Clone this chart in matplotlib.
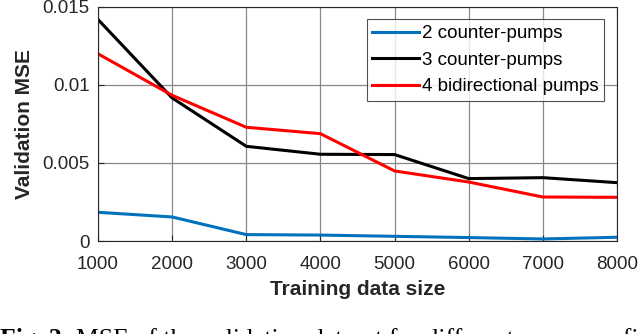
import matplotlib
matplotlib.use('Agg')
import matplotlib.pyplot as plt

# training data sizes
sizes = [1000, 2000, 3000, 4000, 5000, 6000, 7000, 8000]

# validation MSE per pump configuration
mse_2counter = [0.00184, 0.00154, 0.00041, 0.00038, 0.00030, 0.00022, 0.00013, 0.00024]
mse_3counter = [0.0142, 0.00917, 0.00607, 0.00556, 0.00554, 0.00400, 0.00406, 0.00374]
mse_4bidir = [0.0120, 0.00934, 0.00729, 0.00688, 0.00449, 0.00378, 0.00282, 0.00280]

labels = ['2 counter-pumps', '3 counter-pumps', '4 bidirectional pumps']
yticks = [0, 0.005, 0.01, 0.015]
ytick_labels = ['0', '0.005', '0.01', '0.015']

plt.rcParams['font.family'] = ['Liberation Sans', 'DejaVu Sans']

fig = plt.figure(figsize=(6.38, 3.34), dpi=100)
ax = fig.add_axes([98 / 638, 1 - 241 / 334, 519 / 638, 234 / 334])

ax.plot(sizes, mse_2counter, color='#0072BD', lw=2.2, label=labels[0])
ax.plot(sizes, mse_3counter, color='black', lw=2.2, label=labels[1])
ax.plot(sizes, mse_4bidir, color='red', lw=2.2, label=labels[2])

ax.set_xlim(1000, 8000)
ax.set_ylim(0, 0.015)
ax.set_xticks(sizes)
ax.set_yticks(yticks)
ax.set_yticklabels(ytick_labels)
ax.grid(True, color='#888888', lw=0.9)
ax.set_axisbelow(True)
ax.tick_params(direction='in', labelsize=13.5, colors='#262626', length=4)
ax.tick_params(axis='x', pad=11)
ax.tick_params(axis='y', pad=6)
for s in ax.spines.values():
    s.set_color('#262626')
    s.set_linewidth(0.8)

ax.set_xlabel('Training data size', fontsize=15, fontweight='bold', color='#262626', labelpad=5)
ax.set_ylabel('Validation MSE', fontsize=15, fontweight='bold', color='#262626', labelpad=6)

leg = ax.legend(loc='upper right', fontsize=13.5, frameon=True, fancybox=False,
                edgecolor='#262626', handlelength=2.5, handletextpad=0.15,
                borderpad=0.3, labelspacing=0.5, borderaxespad=0,
                bbox_to_anchor=(0.9755, 0.947))
leg.get_frame().set_linewidth(0.8)

# caption, cut off at the bottom edge as in the source
fig.text(0.0, -0.036, 'Fig. 2.', fontsize=18.5, fontweight='bold', family='Liberation Serif', va='baseline')
fig.text(76 / 638, -0.036, 'MSE of the validation dataset for different pump configurations',
         fontsize=18.5, family='Liberation Serif', va='baseline')

fig.savefig('out.png', dpi=100)
